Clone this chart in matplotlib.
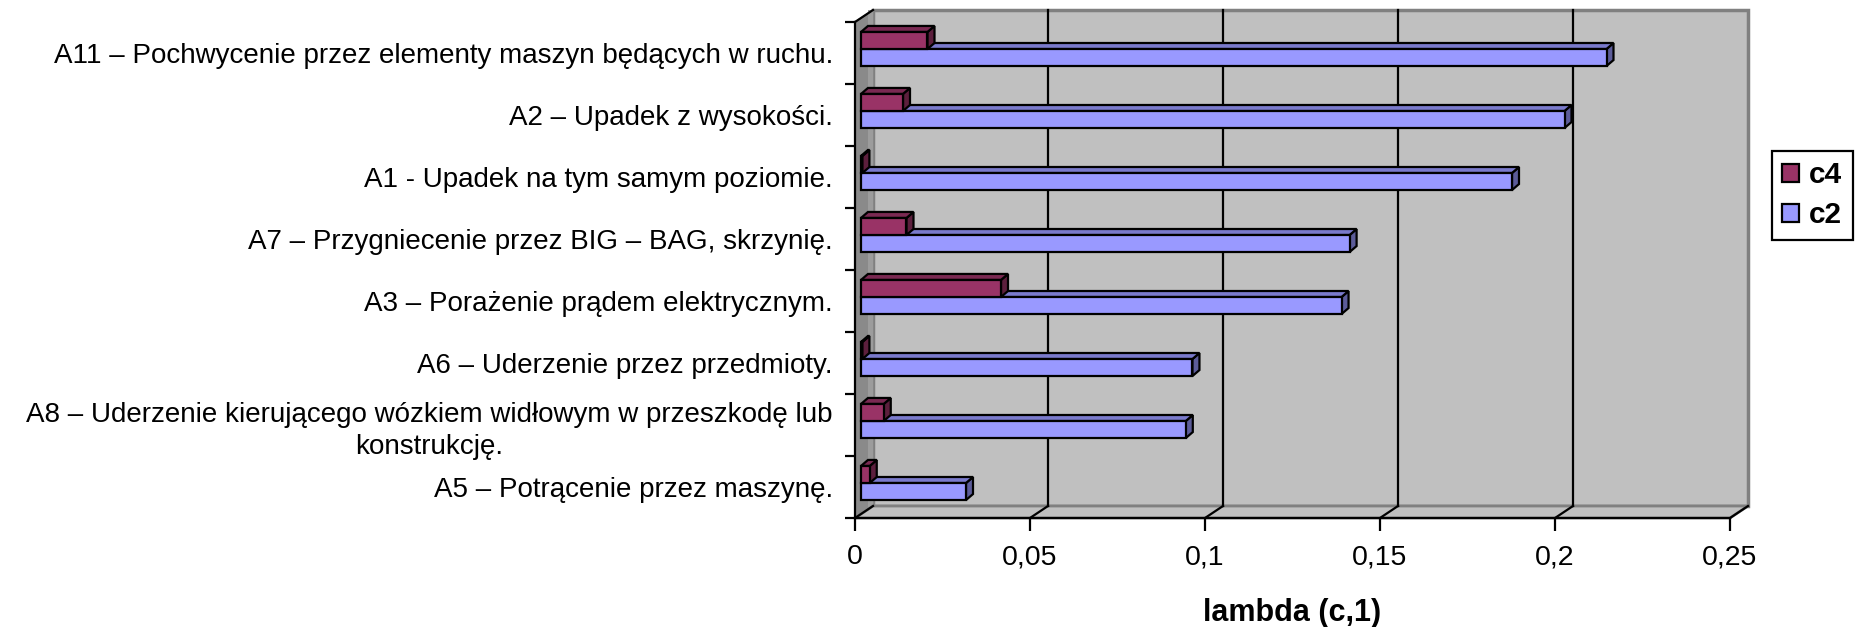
import numpy as np
import matplotlib
matplotlib.use("Agg")
import matplotlib.pyplot as plt
from matplotlib.patches import Polygon, Patch

plt.rcParams["font.family"] = ["Liberation Sans", "DejaVu Sans"]

# --- data -------------------------------------------------------------
categories = [
    "A11 – Pochwycenie przez elementy maszyn będących w ruchu.",
    "A2 – Upadek z wysokości.",
    "A1 - Upadek na tym samym poziomie.",
    "A7 – Przygniecenie przez BIG – BAG, skrzynię.",
    "A3 – Porażenie prądem elektrycznym.",
    "A6 – Uderzenie przez przedmioty.",
    "A8 – Uderzenie kierującego wózkiem widłowym w przeszkodę lub\nkonstrukcję.",
    "A5 – Potrącenie przez maszynę.",
]
c4 = [0.019, 0.012, 0.0004, 0.013, 0.040, 0.0004, 0.0065, 0.0025]
c2 = [0.213, 0.201, 0.186, 0.1396, 0.1373, 0.0947, 0.0928, 0.030]
xticks = [0, 0.05, 0.1, 0.15, 0.2, 0.25]
xtick_labels = ["0", "0,05", "0,1", "0,15", "0,2", "0,25"]
series_names = ["c4", "c2"]
xlabel = "lambda (c,1)"

# --- figure / axes geometry ------------------------------------------
W, H = 1858, 627
fig = plt.figure(figsize=(W / 100, H / 100), dpi=100)
ax_left, ax_right, ax_top, ax_bottom = 855, 1730, 22, 518
ax = fig.add_axes([ax_left / W, (H - ax_bottom) / H,
                   (ax_right - ax_left) / W, (ax_bottom - ax_top) / H])
XMAX = 0.25
n = len(categories)
ax.set_xlim(0, XMAX)
ax.set_ylim(n - 0.5, -0.5)

# pixel -> data conversions for the pseudo-3D offsets
px_x = XMAX / (ax_right - ax_left)
px_y = n / (ax_bottom - ax_top)
WDX, WDY = 18 * px_x, 12 * px_y      # depth of walls
BX, BY = 6 * px_x, 4 * px_y          # plane of the bars
DX, DY = 7 * px_x, 6 * px_y          # depth of each bar

def poly(pts, fc, ec, lw, z):
    p = Polygon(pts, closed=True, facecolor=fc, edgecolor=ec, linewidth=lw,
                zorder=z, clip_on=False, joinstyle="miter")
    ax.add_patch(p)

y_top, y_bot = -0.5, n - 0.5

# back wall
poly([(WDX, y_top - WDY), (XMAX + WDX, y_top - WDY),
      (XMAX + WDX, y_bot - WDY), (WDX, y_bot - WDY)],
     "#c0c0c0", "#808080", 2.5, 0)
# floor
poly([(0, y_bot), (XMAX, y_bot), (XMAX + WDX, y_bot - WDY), (WDX, y_bot - WDY)],
     "#c0c0c0", "#808080", 2.0, 0.2)
# side wall
poly([(0, y_top), (WDX, y_top - WDY), (WDX, y_bot - WDY), (0, y_bot)],
     "#8a8a8a", "#8a8a8a", 1.0, 0.1)
poly([(WDX - 5 * px_x, y_top - WDY), (WDX, y_top - WDY),
      (WDX, y_bot - WDY), (WDX - 5 * px_x, y_bot - WDY + 3 * px_y)],
     "#9c9c9c", "none", 0, 0.15)

# gridlines on back wall and their floor diagonals
for v in xticks:
    if 0 < v < XMAX:
        ax.plot([v + WDX, v + WDX], [y_top - WDY, y_bot - WDY],
                color="black", lw=1.6, zorder=0.5, clip_on=False)
    ax.plot([v, v + WDX], [y_bot, y_bot - WDY], color="black", lw=1.6,
            zorder=0.5, clip_on=False)
# top-left diagonal edge
ax.plot([0, WDX], [y_top, y_top - WDY], color="black", lw=1.6,
        zorder=3, clip_on=False)

def bar3d(y0, y1, value, front, topc, sidec):
    x0, x1 = BX, BX + value
    yt, yb = y0 - BY, y1 - BY
    lw = 1.6
    poly([(x1, yt), (x1 + DX, yt - DY), (x1 + DX, yb - DY), (x1, yb)],
         sidec, "black", lw, 2)
    poly([(x0, yt), (x1, yt), (x1 + DX, yt - DY), (x0 + DX, yt - DY)],
         topc, "black", lw, 2)
    poly([(x0, yt), (x1, yt), (x1, yb), (x0, yb)], front, "black", lw, 2)

red = ("#993366", "#7a2952", "#5c1f3d")
blue = ("#9999ff", "#7a7acc", "#5c5c99")
bh = 0.275
for i in range(n):
    bar3d(i, i + bh, c2[i], *blue)
    bar3d(i - bh, i, c4[i], *red)

# axes lines, ticks and labels
for s in ["top", "right"]:
    ax.spines[s].set_visible(False)
for s in ["left", "bottom"]:
    ax.spines[s].set_color("black")
    ax.spines[s].set_linewidth(1.6)
    ax.spines[s].set_zorder(4)
ax.patch.set_visible(False)

ax.set_xticks(xticks)
ax.set_xticklabels(xtick_labels, fontsize=20.5)
ax.tick_params(axis="x", direction="out", length=9, width=1.6, pad=10)

ax.set_yticks(np.arange(n))
ax.set_yticklabels(categories, fontsize=20, multialignment="center",
                   linespacing=1.3)
ax.set_yticks(np.arange(n + 1) - 0.5, minor=True)
ax.tick_params(axis="y", which="major", length=0, pad=16)
ax.tick_params(axis="y", which="minor", direction="out", length=7, width=1.6)

ax.set_xlabel(xlabel, fontsize=22, fontweight="bold", labelpad=20)

handles = [Patch(facecolor=red[0], edgecolor="black", linewidth=1.6),
           Patch(facecolor=blue[0], edgecolor="black", linewidth=1.6)]
leg = fig.legend(handles, series_names, loc="upper left",
                 bbox_to_anchor=(1772 / W, 1 - 151 / H),
                 prop={"size": 21.5, "weight": "bold"},
                 handlelength=0.55, handleheight=0.55, handletextpad=0.35,
                 labelspacing=0.4, borderpad=0.35, borderaxespad=0,
                 fancybox=False, framealpha=1, edgecolor="black")
leg.get_frame().set_linewidth(1.6)

fig.savefig("out.png", dpi=100, facecolor="white")
